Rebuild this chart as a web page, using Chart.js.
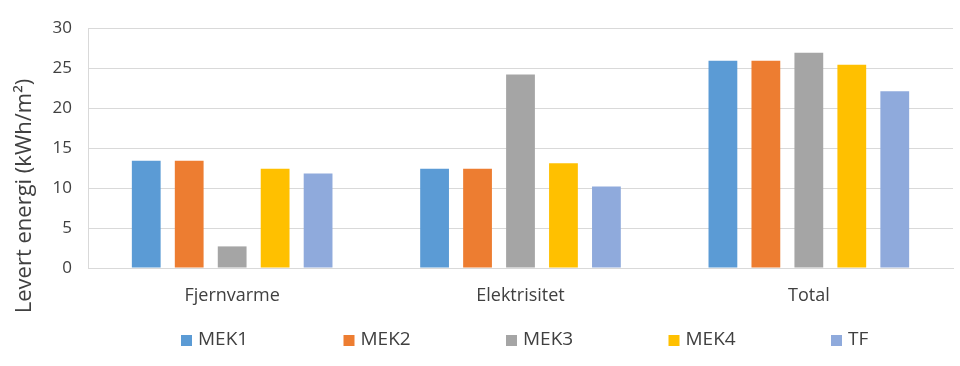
<!DOCTYPE html>
<html>
<head>
<meta charset="utf-8">
<script src="https://cdn.jsdelivr.net/npm/chart.js@4/dist/chart.umd.min.js"></script>
<style>
  body { margin: 0; background: #fff; }
</style>
</head>
<body>
<canvas id="chart" width="960" height="366"></canvas>
<script>
const categories = ['Fjernvarme', 'Elektrisitet', 'Total']
const seriesNames = ['MEK1', 'MEK2', 'MEK3', 'MEK4', 'TF']
const mek1 = [13.4, 12.4, 25.9]
const mek2 = [13.4, 12.4, 25.9]
const mek3 = [2.7, 24.2, 26.9]
const mek4 = [12.4, 13.1, 25.4]
const tf = [11.8, 10.2, 22.1]
const yTitle = 'Levert energi (kWh/m²)'

const colors = ['#5B9BD5', '#ED7D31', '#A5A5A5', '#FFC000', '#8FAADC']
const textColor = '#404040'
const font = '"Open Sans", sans-serif'

function makeDataset(name, values, i) {
  return {
    label: name,
    data: values,
    backgroundColor: colors[i],
    categoryPercentage: 0.745,
    barPercentage: 0.67
  }
}

// excel style legend (equal slots) and y title offset below centre
const extras = {
  id: 'extras',
  afterDraw(chart) {
    const ctx = chart.ctx
    ctx.save()
    ctx.fillStyle = textColor
    ctx.font = '22px ' + font
    ctx.translate(25, 196)
    ctx.rotate(-Math.PI / 2)
    ctx.textAlign = 'center'
    ctx.textBaseline = 'middle'
    ctx.fillText(yTitle, 0, 0)
    ctx.restore()

    ctx.save()
    ctx.font = '19px ' + font
    ctx.textBaseline = 'middle'
    chart.data.datasets.forEach((ds, i) => {
      const x = 181 + i * 162.5
      ctx.fillStyle = ds.backgroundColor
      ctx.fillRect(x, 335, 11, 11)
      ctx.fillStyle = textColor
      ctx.fillText(ds.label, x + 17, 340)
    })
    ctx.restore()
  }
}

new Chart(document.getElementById('chart'), {
  type: 'bar',
  data: {
    labels: categories,
    datasets: [mek1, mek2, mek3, mek4, tf].map((v, i) => makeDataset(seriesNames[i], v, i))
  },
  options: {
    responsive: false,
    animation: false,
    layout: { padding: { top: 28, right: 7, bottom: 0, left: 0 } },
    plugins: {
      legend: { display: false },
      tooltip: { enabled: false }
    },
    scales: {
      x: {
        grid: { display: false, drawTicks: false },
        border: { display: true, color: '#D9D9D9' },
        ticks: { color: textColor, font: { family: font, size: 18 }, padding: 17 },
        afterFit: s => { s.height = 98 }
      },
      y: {
        min: 0,
        max: 30,
        ticks: { stepSize: 5, color: textColor, font: { family: font, size: 17 }, padding: 16 },
        grid: { color: '#D9D9D9', drawTicks: false },
        border: { display: true, color: '#D9D9D9' },
        afterFit: s => { s.width = 88 }
      }
    }
  },
  plugins: [extras]
})
</script>
</body>
</html>
